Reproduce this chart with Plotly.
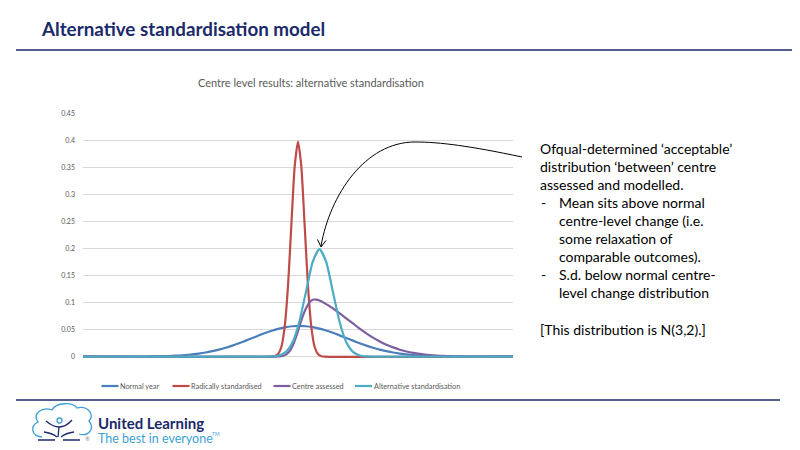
import plotly.graph_objects as go

# ---------------- data ----------------
normal_x = [-32.3, -26, -25, -24, -23, -22, -21, -20, -19, -18, -17, -16, -15, -14, -13, -12, -11, -10,
            -9, -8, -7, -6, -5, -4, -3, -2, -1, 0, 1, 2, 3, 4, 5, 6, 7, 8, 9, 10, 11, 12, 13, 14, 15,
            16, 17, 18, 19, 20, 21, 22, 23, 24, 25, 26, 31.9]
normal_y = [0, 0.0000, 0.0001, 0.0002, 0.0003, 0.0004, 0.0006, 0.0010, 0.0014, 0.0021, 0.0030, 0.0042,
            0.0057, 0.0077, 0.0102, 0.0131, 0.0166, 0.0205, 0.0249, 0.0297, 0.0346, 0.0395, 0.0442,
            0.0484, 0.0520, 0.0547, 0.0564, 0.0570, 0.0564, 0.0547, 0.0520, 0.0484, 0.0442, 0.0395,
            0.0346, 0.0297, 0.0249, 0.0205, 0.0166, 0.0131, 0.0102, 0.0077, 0.0057, 0.0042, 0.0030,
            0.0021, 0.0014, 0.0010, 0.0006, 0.0004, 0.0003, 0.0002, 0.0001, 0.0000, 0]

radical_x = [-32.3, -4.2, -3.7, -3.2, -2.7, -2.2, -1.7, -1.2, -0.7, -0.2, 0.3, 0.8, 1.3, 1.8, 2.3,
             2.8, 3.3, 3.8, 31.9]
radical_y = [0, 0.0001, 0.0009, 0.0044, 0.0175, 0.0540, 0.1295, 0.2420, 0.3521, 0.3989, 0.3521,
             0.2420, 0.1295, 0.0540, 0.0175, 0.0044, 0.0009, 0.0001, 0]

centre_x = [-32.3, -3, -2.5, -2, -1.5, -1, -0.5, 0, 0.5, 1, 1.5, 2, 2.5, 3, 4, 5, 6, 7, 8, 9, 10,
            11, 12, 13, 14, 15, 16, 17, 18, 19, 20, 21, 22, 23, 24, 25, 26, 27, 28, 31.9]
centre_y = [0, 0.0004, 0.0012, 0.0038, 0.0095, 0.0201, 0.0360, 0.0554, 0.0745, 0.0896, 0.1005,
            0.1055, 0.1058, 0.1040, 0.0975, 0.0895, 0.0805, 0.0710, 0.0615, 0.0520, 0.0432, 0.0352,
            0.0282, 0.0222, 0.0172, 0.0129, 0.0096, 0.0070, 0.0050, 0.0035, 0.0024, 0.0016, 0.0010,
            0.0007, 0.0004, 0.0003, 0.0002, 0.0001, 0.0000, 0]

alt_x = [-32.3, -5, -4, -3, -2, -1, 0, 1, 2, 3, 4, 5, 6, 7, 8, 9, 10, 11, 31.9]
alt_y = [0, 0.0000, 0.0004, 0.0022, 0.0088, 0.0270, 0.0648, 0.1210, 0.1760, 0.1995, 0.1760,
         0.1210, 0.0648, 0.0270, 0.0088, 0.0022, 0.0004, 0.0000, 0]

series_names = ["Normal year", "Radically standardised", "Centre assessed", "Alternative standardisation"]
series_colors = ["#4A7EBB", "#BE4B48", "#7D5FA0", "#4BACC6"]

y_ticks = [0, 0.05, 0.1, 0.15, 0.2, 0.25, 0.3, 0.35, 0.4, 0.45]
y_tick_labels = ["0", "0.05", "0.1", "0.15", "0.2", "0.25", "0.3", "0.35", "0.4", "0.45"]

page_title = "Alternative standardisation model"
chart_title = "Centre level results: alternative standardisation"

# ---------------- layout geometry (reference pixels) ----------------
OFF = 8                      # page body margin of the html page
W, H = 800 - OFF, 450 - OFF
PL, PR, PT, PB = 83, 513, 114, 358
NAVY = "#1B2A6B"
GREY = "#595959"
FONT = "Lato"


def px(x):
    return (x - PL) / (PR - PL)


def py(y):
    return (PB - y) / (PB - PT)


def path_px(cmds):
    out = []
    for c in cmds:
        if isinstance(c, str):
            out.append(c)
        else:
            out.append(f"{px(c[0]):.5f},{py(c[1]):.5f}")
    return " ".join(out)


fig = go.Figure()
for xs, ys, name, col in zip([normal_x, radical_x, centre_x, alt_x],
                             [normal_y, radical_y, centre_y, alt_y],
                             series_names, series_colors):
    fig.add_trace(go.Scatter(x=xs, y=ys, mode="lines", name=name,
                             line=dict(color=col, width=2.2, shape="spline", smoothing=0.6),
                             showlegend=False, hoverinfo="skip"))

shapes = []
annotations = []

# title and rule
annotations.append(dict(x=px(40), y=py(29), xref="paper", yref="paper", text=page_title,
                        showarrow=False, xanchor="left", yanchor="middle", borderpad=0,
                        font=dict(family=FONT, size=18.8, color=NAVY, weight="bold")))
shapes.append(dict(type="line", xref="paper", yref="paper", x0=px(16), x1=px(800), y0=py(50), y1=py(50),
                   line=dict(color=NAVY, width=1.5)))

# chart title
annotations.append(dict(x=px(311), y=py(82), xref="paper", yref="paper", text=chart_title,
                        showarrow=False, xanchor="center", yanchor="middle",
                        font=dict(family=FONT, size=11, color=GREY)))

# manual legend
leg_items = [(101.5, 118.5), (172.5, 189.5), (273.5, 290.5), (355, 372)]
for (x0, x1), name, col in zip(leg_items, series_names, series_colors):
    shapes.append(dict(type="line", xref="paper", yref="paper", x0=px(x0), x1=px(x1), y0=py(386), y1=py(386),
                       line=dict(color=col, width=2.2)))
    annotations.append(dict(x=px(x1 + 0.5), y=py(386), xref="paper", yref="paper", text=name,
                            showarrow=False, xanchor="left", yanchor="middle", borderpad=0,
                            font=dict(family=FONT, size=7.3, color=GREY)))

# side text
text_lines = [
    (539, 148, "Ofqual-determined ‘acceptable’"),
    (539, 166, "distribution ‘between’ centre"),
    (539, 184, "assessed and modelled."),
    (540, 202, "-"), (558, 202, "Mean sits above normal"),
    (558, 220, "centre-level change (i.e."),
    (558, 238, "some relaxation of"),
    (558, 256, "comparable outcomes)."),
    (540, 274, "-"), (558, 274, "S.d. below normal centre-"),
    (558, 292, "level change distribution"),
    (539, 329, "[This distribution is N(3,2).]"),
]
for x, y, t in text_lines:
    annotations.append(dict(x=px(x), y=py(y), xref="paper", yref="paper", text=t,
                            showarrow=False, xanchor="left", yanchor="middle", borderpad=0,
                            font=dict(family=FONT, size=14, color="#000000")))

# curved arrow
shapes.append(dict(type="path", xref="paper", yref="paper",
                   path=path_px(["M", (522, 157), "C", (470, 146), (440, 142), (415, 142),
                                 "C", (365, 142), (330, 195), (321, 246)]),
                   line=dict(color="#000000", width=1)))
shapes.append(dict(type="path", xref="paper", yref="paper",
                   path=path_px(["M", (317.5, 239.5), "L", (321, 247), "L", (326, 240.5)]),
                   line=dict(color="#000000", width=1)))

# bottom rule
shapes.append(dict(type="line", xref="paper", yref="paper", x0=px(16), x1=px(780), y0=py(400), y1=py(400),
                   line=dict(color=NAVY, width=1.5)))

# logo (simplified)
LB = "#3E9FD6"
shapes.append(dict(type="path", xref="paper", yref="paper",
                   path=path_px(["M", (42, 437), "C", (31, 436), (30, 426), (38, 422),
                                 "C", (32, 414), (42, 406), (52, 410),
                                 "C", (56, 402), (73, 402), (77, 408),
                                 "C", (87, 405), (95, 414), (89, 421),
                                 "C", (95, 428), (89, 437), (79, 434)]),
                   line=dict(color=LB, width=1.3)))
shapes.append(dict(type="circle", xref="paper", yref="paper", x0=px(57), x1=px(62), y0=py(418), y1=py(423),
                   line=dict(color=LB, width=1.3)))
shapes.append(dict(type="path", xref="paper", yref="paper",
                   path=path_px(["M", (46, 421), "Q", (53, 427), (59, 427), "Q", (66, 427), (72, 420)]),
                   line=dict(color=NAVY, width=1.3)))
shapes.append(dict(type="path", xref="paper", yref="paper",
                   path=path_px(["M", (59, 427), "L", (58, 437), "M", (44, 432), "Q", (52, 433), (57, 437),
                                 "M", (74, 432), "Q", (66, 433), (61, 437)]),
                   line=dict(color=NAVY, width=1.3)))
shapes.append(dict(type="path", xref="paper", yref="paper",
                   path=path_px(["M", (38, 440), "L", (55, 440), "M", (63, 440), "L", (80, 440)]),
                   line=dict(color=NAVY, width=1.3)))
annotations.append(dict(x=px(84), y=py(439), xref="paper", yref="paper", text="®", showarrow=False,
                        xanchor="left", yanchor="middle", borderpad=0,
                        font=dict(family=FONT, size=6, color="#888888")))
annotations.append(dict(x=px(97), y=py(423), xref="paper", yref="paper", text="United Learning",
                        showarrow=False, xanchor="left", yanchor="middle", borderpad=0,
                        font=dict(family=FONT, size=15, color=NAVY, weight="bold")))
annotations.append(dict(x=px(97), y=py(439), xref="paper", yref="paper", text="The best in everyone",
                        showarrow=False, xanchor="left", yanchor="middle", borderpad=0,
                        font=dict(family=FONT, size=12.5, color=LB)))
annotations.append(dict(x=px(211), y=py(434), xref="paper", yref="paper", text="TM",
                        showarrow=False, xanchor="left", yanchor="middle", borderpad=0,
                        font=dict(family=FONT, size=5, color=LB)))

fig.update_layout(
    width=W, height=H,
    margin=dict(l=PL - OFF, r=800 - PR, t=PT - OFF, b=450 - PB, pad=0),
    paper_bgcolor="white", plot_bgcolor="white",
    showlegend=False,
    xaxis=dict(range=[-32.3, 31.9], showgrid=False, zeroline=False, showticklabels=False,
               showline=False, ticks="", fixedrange=True),
    yaxis=dict(range=[-0.0025, 0.45], tickvals=y_ticks, ticktext=y_tick_labels, showgrid=True,
               gridcolor="#D9D9D9", gridwidth=1, zeroline=False, showline=False, ticks="",
               ticklabelstandoff=7, tickfont=dict(family=FONT, size=7, color=GREY), fixedrange=True),
    shapes=shapes, annotations=annotations,
    font=dict(family=FONT),
)

fig.write_html("out.html", config={"displayModeBar": False})
